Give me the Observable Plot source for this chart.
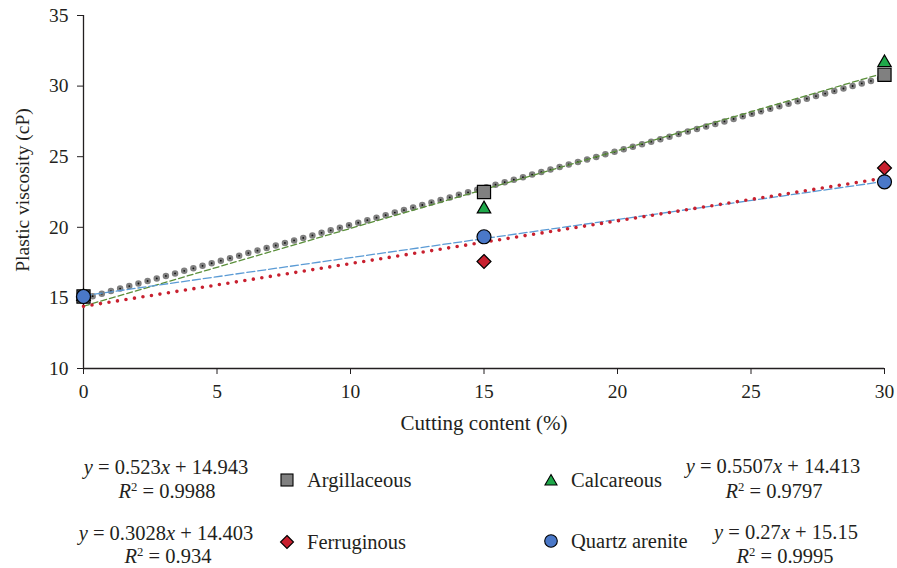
<!DOCTYPE html>
<html>
<head>
<meta charset="utf-8">
<script src="https://cdn.jsdelivr.net/npm/d3@7"></script>
<script src="https://cdn.jsdelivr.net/npm/@observablehq/plot@0.6"></script>
<style>
  body { margin: 0; background: #fff; }
  #wrap { position: relative; width: 897px; height: 568px; font-family: "Liberation Serif", "DejaVu Serif", serif; color: #231f20; }
  .lg { position: absolute; white-space: nowrap; font-size: 20.5px; line-height: 1; }
  .c { transform: translate(-50%, -50%); }
  .l { transform: translate(0, -50%); }
  .sw { position: absolute; transform: translate(-50%, -50%); }
  sup { font-size: 0.62em; vertical-align: 0.55em; line-height: 0; }
</style>
</head>
<body>
<div id="wrap"><div id="chart"></div></div>
<script>
// ---- data ----
const cuttingContent = [0, 15, 30];
const seriesNames = ["Argillaceous", "Calcareous", "Ferruginous", "Quartz arenite"];
const argillaceous = [15.1, 22.5, 30.8];
const calcareous = [15.1, 21.3, 31.65];
const ferruginous = [15.07, 17.58, 24.2];
const quartzArenite = [15.1, 19.33, 23.22];
const slopes = [0.523, 0.5507, 0.3028, 0.27];
const intercepts = [14.943, 14.413, 14.403, 15.15];
const rSquared = ["0.9988", "0.9797", "0.934", "0.9995"];
const slopeLabels = ["0.523", "0.5507", "0.3028", "0.27"];
const interceptLabels = ["14.943", "14.413", "14.403", "15.15"];
const xTicks = [0, 5, 10, 15, 20, 25, 30];
const yTicks = [10, 15, 20, 25, 30, 35];

const values = [argillaceous, calcareous, ferruginous, quartzArenite];
const points = values.flatMap((vals, i) => vals.map((v, j) => ({series: seriesNames[i], x: cuttingContent[j], y: v})));
const trend = seriesNames.flatMap((s, i) => [0, 30].map(x => ({series: s, x, y: slopes[i] * x + intercepts[i]})));
const pts = s => points.filter(d => d.series === s);
const tr = s => trend.filter(d => d.series === s);

const grey = "#808080", green = "#1fa84a", red = "#c8202f", blue = "#4a78c8";

const chart = Plot.plot({
  width: 897, height: 440,
  marginLeft: 83, marginRight: 13, marginTop: 15, marginBottom: 72,
  style: {fontFamily: "'Liberation Serif', 'DejaVu Serif', serif", fontSize: "19.5px", color: "#231f20", background: "#fff", overflow: "visible"},
  x: {domain: [0, 30], ticks: xTicks, tickSize: 6, tickPadding: 10, label: null},
  y: {domain: [10, 35], ticks: yTicks, tickSize: 6, tickPadding: 9, label: null},
  marks: [
    Plot.ruleX([0], {stroke: "#231f20", strokeWidth: 1.3}),
    Plot.ruleY([10], {stroke: "#231f20", strokeWidth: 1.3}),
    // trendlines
    Plot.line(tr("Argillaceous"), {x: "x", y: "y", stroke: grey, strokeWidth: 6.5, strokeLinecap: "round", strokeDasharray: "0 9.5"}),
    Plot.line(tr("Argillaceous"), {x: "x", y: "y", stroke: "#111", strokeWidth: 1.8, strokeLinecap: "round", strokeDasharray: "0 9.5"}),
    Plot.line(tr("Calcareous"), {x: "x", y: "y", stroke: "#5a8f3a", strokeWidth: 1.3, strokeDasharray: "6 3"}),
    Plot.line(tr("Quartz arenite"), {x: "x", y: "y", stroke: "#5b9bd5", strokeWidth: 1.3, strokeDasharray: "8 3"}),
    Plot.line(tr("Ferruginous"), {x: "x", y: "y", stroke: red, strokeWidth: 3.6, strokeLinecap: "round", strokeDasharray: "0 8.6"}),
    // markers
    Plot.dot(pts("Argillaceous"), {x: "x", y: "y", symbol: "square", r: 7.4, fill: grey, stroke: "#000", strokeWidth: 1.2}),
    Plot.dot(pts("Calcareous"), {x: "x", y: "y", symbol: "triangle", r: 5, fill: green, stroke: "#000", strokeWidth: 1.2}),
    Plot.dot(pts("Ferruginous"), {x: "x", y: "y", symbol: "diamond2", r: 6.3, fill: red, stroke: "#000", strokeWidth: 1.2}),
    Plot.dot(pts("Quartz arenite"), {x: "x", y: "y", symbol: "circle", r: 7, fill: blue, stroke: "#000", strokeWidth: 1.2}),
    // axis titles
    Plot.text(["Cutting content (%)"], {frameAnchor: "bottom", dy: 55, textAnchor: "middle", lineAnchor: "middle", fontSize: 21, fill: "#231f20"}),
    Plot.text(["Plastic viscosity (cP)"], {frameAnchor: "left", dx: -61, dy: -2, rotate: -90, textAnchor: "middle", lineAnchor: "middle", fontSize: 19.5, fill: "#231f20"})
  ]
});
document.getElementById("chart").appendChild(chart);

// ---- legend ----
const wrap = document.getElementById("wrap");
function addText(html, x, y, cls) {
  const d = document.createElement("div");
  d.className = "lg " + cls;
  d.style.left = x + "px"; d.style.top = y + "px";
  d.innerHTML = html;
  wrap.appendChild(d);
}
function addSwatch(kind, x, y) {
  const ns = "http://www.w3.org/2000/svg";
  const s = document.createElementNS(ns, "svg");
  s.setAttribute("width", 16); s.setAttribute("height", 16);
  s.setAttribute("class", "sw");
  s.style.left = x + "px"; s.style.top = y + "px";
  let el;
  if (kind === "square") { el = document.createElementNS(ns, "rect"); el.setAttribute("x", 2); el.setAttribute("y", 2); el.setAttribute("width", 12); el.setAttribute("height", 12); el.setAttribute("fill", grey); }
  if (kind === "triangle") { el = document.createElementNS(ns, "path"); el.setAttribute("d", "M8,2.5L14,13L2,13Z"); el.setAttribute("fill", green); }
  if (kind === "diamond") { el = document.createElementNS(ns, "path"); el.setAttribute("d", "M8,1.5L14.5,8L8,14.5L1.5,8Z"); el.setAttribute("fill", red); }
  if (kind === "circle") { el = document.createElementNS(ns, "circle"); el.setAttribute("cx", 8); el.setAttribute("cy", 8); el.setAttribute("r", 6.3); el.setAttribute("fill", blue); }
  el.setAttribute("stroke", "#000"); el.setAttribute("stroke-width", 1.1);
  s.appendChild(el);
  wrap.appendChild(s);
}
const eq = i => `<i>y</i> = ${slopeLabels[i]}<i>x</i> + ${interceptLabels[i]}`;
const r2 = i => `<i>R</i><sup>2</sup> = ${rSquared[i]}`;
const kinds = ["square", "triangle", "diamond", "circle"];
const layout = [
  {sw: [287, 480], eq: [166, 467], r2: [167, 491]},
  {sw: [551, 480], eq: [773, 466], r2: [774, 491]},
  {sw: [287, 542], eq: [166, 533], r2: [168, 556]},
  {sw: [551, 541], eq: [786, 532], r2: [785, 556]}
];
seriesNames.forEach((name, i) => {
  const L = layout[i];
  addSwatch(kinds[i], L.sw[0], L.sw[1]);
  addText(name, L.sw[0] + 20, L.sw[1], "l");
  addText(eq(i), L.eq[0], L.eq[1], "c");
  addText(r2(i), L.r2[0], L.r2[1], "c");
});
</script>
</body>
</html>
